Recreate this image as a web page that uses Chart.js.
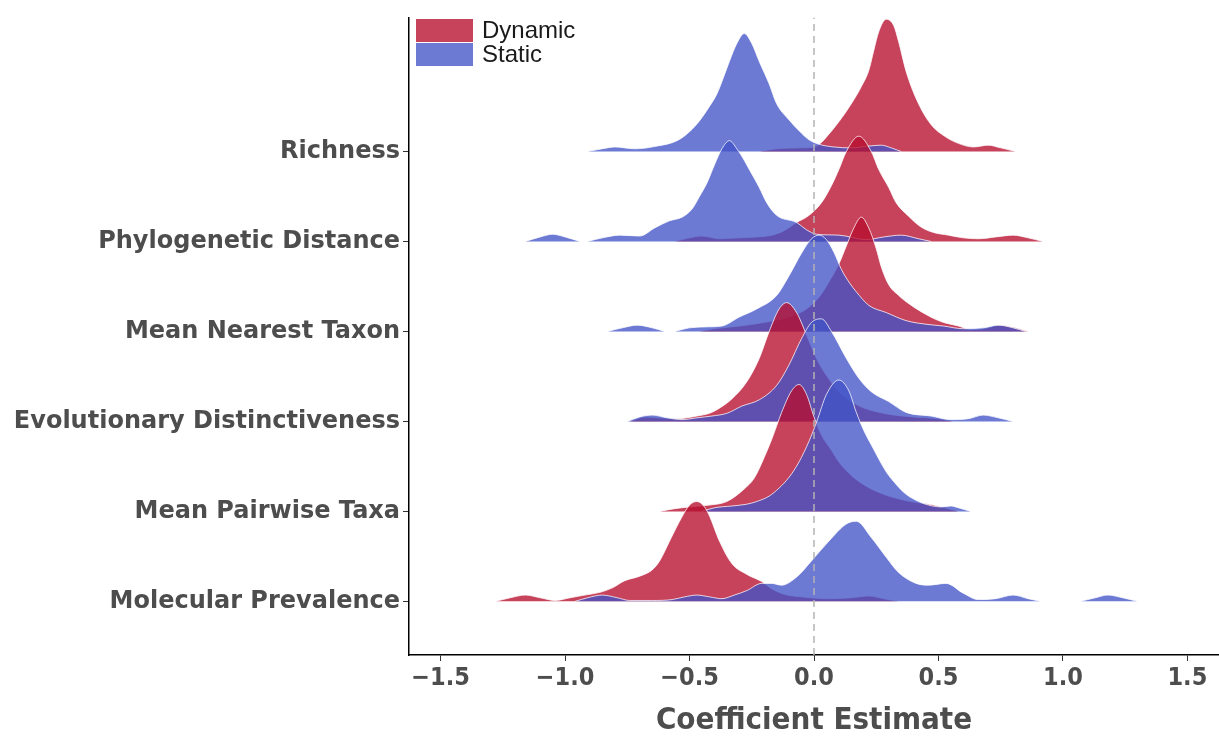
<!DOCTYPE html>
<html>
<head>
<meta charset="utf-8">
<script src="https://cdn.jsdelivr.net/npm/chart.js@4.4.1/dist/chart.umd.min.js"></script>
<style>
  html, body { margin: 0; padding: 0; background: #fff; }
  #wrap { width: 1219px; height: 736px; position: relative; }
</style>
</head>
<body>
<div id="wrap"><canvas id="ridges"></canvas></div>
<script>
// categories, top to bottom
var categories = ['Richness', 'Phylogenetic Distance', 'Mean Nearest Taxon',
  'Evolutionary Distinctiveness', 'Mean Pairwise Taxa', 'Molecular Prevalence'];
var groups = ['Dynamic', 'Static'];
var xTicks = [-1.5, -1.0, -0.5, 0.0, 0.5, 1.0, 1.5];

// density curves: [estimate, height in row units], null = gap
var richnessDynamic = [[-0.22,0],[-0.15,0.03],[-0.05,0.04],[0.0,0.05],[0.03,0.1],[0.05,0.16],[0.1,0.33],[0.15,0.53],[0.19,0.72],[0.22,0.9],[0.24,1.12],[0.26,1.33],[0.29,1.47],[0.32,1.4],[0.34,1.22],[0.37,0.89],[0.42,0.53],[0.47,0.3],[0.53,0.16],[0.58,0.09],[0.64,0.05],[0.7,0.07],[0.75,0.04],[0.81,0]];
var richnessStatic = [[-0.91,0],[-0.85,0.03],[-0.8,0.05],[-0.72,0.03],[-0.63,0.06],[-0.55,0.12],[-0.5,0.22],[-0.46,0.34],[-0.42,0.5],[-0.39,0.64],[-0.36,0.85],[-0.34,1.0],[-0.31,1.2],[-0.28,1.31],[-0.25,1.2],[-0.22,1.0],[-0.18,0.75],[-0.15,0.53],[-0.1,0.35],[-0.06,0.23],[-0.02,0.13],[0.02,0.08],[0.08,0.05],[0.15,0.04],[0.22,0.06],[0.27,0.07],[0.31,0.04],[0.35,0]];
var phyloDynamic = [[-0.56,0],[-0.5,0.04],[-0.45,0.06],[-0.38,0.03],[-0.3,0.04],[-0.23,0.05],[-0.17,0.07],[-0.12,0.12],[-0.07,0.21],[-0.02,0.29],[0.03,0.43],[0.07,0.62],[0.1,0.8],[0.13,1.0],[0.18,1.17],[0.23,1.0],[0.26,0.8],[0.3,0.6],[0.33,0.43],[0.38,0.28],[0.43,0.16],[0.48,0.1],[0.54,0.07],[0.6,0.04],[0.66,0.03],[0.73,0.05],[0.8,0.07],[0.86,0.04],[0.92,0]];
var phyloStatic = [[-1.16,0],[-1.1,0.05],[-1.05,0.08],[-1.0,0.05],[-0.94,0],[-0.925,null],[-0.91,0],[-0.85,0.04],[-0.78,0.07],[-0.7,0.06],[-0.64,0.15],[-0.58,0.23],[-0.53,0.27],[-0.49,0.36],[-0.46,0.5],[-0.43,0.65],[-0.4,0.85],[-0.37,1.03],[-0.34,1.12],[-0.31,1.03],[-0.28,0.9],[-0.26,0.8],[-0.22,0.6],[-0.19,0.43],[-0.15,0.29],[-0.07,0.21],[-0.03,0.13],[0.01,0.08],[0.1,0.07],[0.21,0.02],[0.28,0.05],[0.35,0.07],[0.42,0.03],[0.47,0]];
var mntDynamic = [[-0.46,0],[-0.4,0.03],[-0.3,0.06],[-0.2,0.1],[-0.1,0.16],[-0.03,0.25],[0.02,0.38],[0.06,0.55],[0.1,0.75],[0.13,0.95],[0.16,1.15],[0.19,1.27],[0.22,1.15],[0.25,0.92],[0.27,0.72],[0.3,0.52],[0.34,0.4],[0.37,0.33],[0.43,0.22],[0.51,0.11],[0.58,0.06],[0.63,0.02],[0.68,0.03],[0.75,0.07],[0.81,0.04],[0.86,0]];
var mntStatic = [[-0.83,0],[-0.77,0.04],[-0.71,0.07],[-0.65,0.04],[-0.6,0],[-0.58,null],[-0.56,0],[-0.5,0.04],[-0.44,0.05],[-0.37,0.06],[-0.3,0.16],[-0.23,0.25],[-0.15,0.4],[-0.1,0.62],[-0.05,0.87],[-0.01,1.03],[0.02,1.07],[0.05,1.02],[0.08,0.88],[0.11,0.69],[0.14,0.55],[0.17,0.44],[0.22,0.29],[0.29,0.21],[0.37,0.12],[0.45,0.08],[0.52,0.06],[0.6,0.03],[0.68,0.04],[0.74,0.07],[0.8,0.04],[0.85,0]];
var edDynamic = [[-0.74,0],[-0.68,0.05],[-0.62,0.04],[-0.55,0.03],[-0.47,0.06],[-0.42,0.09],[-0.39,0.13],[-0.33,0.25],[-0.27,0.44],[-0.22,0.7],[-0.18,1.0],[-0.14,1.25],[-0.11,1.32],[-0.07,1.21],[-0.03,0.96],[0.01,0.7],[0.06,0.47],[0.1,0.33],[0.15,0.22],[0.2,0.15],[0.3,0.08],[0.4,0.05],[0.5,0.03],[0.56,0]];
var edStatic = [[-0.75,0],[-0.7,0.05],[-0.65,0.07],[-0.59,0.04],[-0.53,0.02],[-0.47,0.04],[-0.41,0.06],[-0.35,0.09],[-0.29,0.17],[-0.22,0.24],[-0.15,0.4],[-0.1,0.63],[-0.05,0.92],[-0.01,1.1],[0.03,1.14],[0.07,1.0],[0.13,0.7],[0.18,0.48],[0.23,0.33],[0.3,0.22],[0.37,0.1],[0.47,0.06],[0.55,0.02],[0.62,0.03],[0.68,0.07],[0.74,0.04],[0.8,0]];
var mptDynamic = [[-0.62,0],[-0.56,0.03],[-0.5,0.05],[-0.42,0.07],[-0.35,0.11],[-0.28,0.25],[-0.24,0.37],[-0.2,0.6],[-0.17,0.8],[-0.13,1.1],[-0.09,1.34],[-0.06,1.41],[-0.03,1.3],[0.0,1.05],[0.03,0.85],[0.07,0.68],[0.1,0.55],[0.15,0.4],[0.21,0.28],[0.28,0.19],[0.37,0.12],[0.48,0.07],[0.54,0.03],[0.58,0]];
var mptStatic = [[-0.45,0],[-0.4,0.04],[-0.33,0.06],[-0.27,0.08],[-0.23,0.11],[-0.18,0.17],[-0.14,0.26],[-0.1,0.38],[-0.06,0.55],[-0.02,0.78],[0.01,0.99],[0.05,1.3],[0.1,1.46],[0.14,1.34],[0.17,1.1],[0.2,0.9],[0.23,0.74],[0.29,0.44],[0.33,0.3],[0.37,0.19],[0.42,0.11],[0.46,0.07],[0.51,0.05],[0.55,0.06],[0.58,0.04],[0.63,0]];
var molDynamic = [[-1.28,0],[-1.22,0.04],[-1.16,0.07],[-1.1,0.04],[-1.04,0.01],[-0.98,0.04],[-0.92,0.07],[-0.86,0.1],[-0.81,0.15],[-0.76,0.23],[-0.7,0.28],[-0.65,0.35],[-0.62,0.45],[-0.58,0.67],[-0.54,0.89],[-0.5,1.07],[-0.47,1.11],[-0.44,1.05],[-0.42,0.95],[-0.38,0.67],[-0.33,0.42],[-0.27,0.3],[-0.21,0.22],[-0.17,0.14],[-0.12,0.08],[-0.05,0.05],[0.05,0.03],[0.15,0.04],[0.22,0.06],[0.28,0.03],[0.34,0]];
var molStatic = [[-0.96,0],[-0.91,0.04],[-0.85,0.07],[-0.79,0.04],[-0.74,0.01],[-0.65,0.01],[-0.57,0.02],[-0.52,0.05],[-0.47,0.07],[-0.42,0.05],[-0.37,0.03],[-0.32,0.07],[-0.27,0.12],[-0.21,0.2],[-0.17,0.2],[-0.13,0.18],[-0.07,0.27],[-0.01,0.45],[0.06,0.67],[0.13,0.86],[0.17,0.89],[0.23,0.71],[0.29,0.49],[0.34,0.32],[0.41,0.2],[0.46,0.18],[0.53,0.2],[0.6,0.09],[0.66,0.02],[0.73,0.03],[0.8,0.07],[0.86,0.03],[0.91,0],[0.99,null],[1.07,0],[1.13,0.04],[1.18,0.07],[1.24,0.04],[1.3,0]];

var dynamicCurves = [richnessDynamic, phyloDynamic, mntDynamic, edDynamic, mptDynamic, molDynamic];
var staticCurves = [richnessStatic, phyloStatic, mntStatic, edStatic, mptStatic, molStatic];

var fillColors = ['rgba(183,14,46,0.78)', 'rgba(66,84,200,0.78)'];
var labelGrey = '#4d4d4d';
var narrow = "'Liberation Sans Narrow', 'DejaVu Sans Condensed', 'Arial Narrow', sans-serif";

function baseOf(i) { return categories.length - i; }

function toPoints(curve, base) {
  return curve.map(function (p) {
    return { x: p[0], y: p[1] === null ? null : base + p[1] };
  });
}

var datasets = [];
var drawIdx = 0;
categories.forEach(function (cat, i) {
  var base = baseOf(i);
  [dynamicCurves[i], staticCurves[i]].forEach(function (curve, g) {
    datasets.push({
      label: cat + ' - ' + groups[g],
      data: toPoints(curve, base),
      backgroundColor: fillColors[g],
      borderColor: 'rgba(255,255,255,0.75)',
      borderWidth: 1,
      pointRadius: 0,
      cubicInterpolationMode: 'monotone',
      spanGaps: false,
      fill: { value: base },
      order: 100 - drawIdx
    });
    drawIdx++;
  });
});

// dashed reference line at zero, on top
datasets.push({
  label: 'zero',
  data: [{ x: 0, y: 0.404 }, { x: 0, y: 7.49 }],
  borderColor: '#b3b3b3',
  borderWidth: 1.5,
  borderDash: [7, 5],
  pointRadius: 0,
  fill: false,
  order: 0
});

var legendBoxes = {
  id: 'legendBoxes',
  afterDraw: function (chart) {
    var c = chart.ctx;
    var left = chart.chartArea.left + 7;
    c.save();
    groups.forEach(function (g, k) {
      var y = 19 + k * 24;
      c.fillStyle = fillColors[k];
      c.fillRect(left, y, 57, 23);
      c.fillStyle = '#1a1a1a';
      c.font = '24px "Liberation Sans", Arial, sans-serif';
      c.textBaseline = 'middle';
      c.textAlign = 'left';
      c.fillText(g, left + 66, y + 12);
    });
    c.restore();
  }
};

var ctx = document.getElementById('ridges');
var ridges = new Chart(ctx, {
  type: 'line',
  data: { datasets: datasets },
  options: {
    responsive: true,
    maintainAspectRatio: false,
    animation: false,
    layout: { padding: { top: 13, right: 0, left: 0, bottom: 0 } },
    plugins: {
      legend: { display: false },
      tooltip: { enabled: false }
    },
    scales: {
      x: {
        type: 'linear',
        min: -1.627,
        max: 1.627,
        afterFit: function (s) { s.height = 81; },
        afterBuildTicks: function (s) {
          s.ticks = xTicks.map(function (v) { return { value: v }; });
        },
        ticks: {
          color: labelGrey,
          padding: 2,
          maxRotation: 0,
          font: { family: narrow, size: 25, weight: 'bold' },
          callback: function (v) {
            var t = Math.abs(v).toFixed(1);
            return v < 0 ? '\u2212' + t : t;
          }
        },
        grid: { drawOnChartArea: false, drawTicks: true, tickLength: 6, color: '#333', lineWidth: 1 },
        border: { display: true, color: '#000', width: 1.5 },
        title: {
          display: true,
          text: 'Coefficient Estimate',
          color: labelGrey,
          padding: { top: 0, bottom: 0 },
          font: { family: narrow, size: 31, weight: 'bold', lineHeight: 1 }
        }
      },
      y: {
        type: 'linear',
        min: 0.404,
        max: 7.49,
        afterFit: function (s) { s.width = 409; },
        afterBuildTicks: function (s) {
          s.ticks = categories.map(function (c, i) { return { value: baseOf(i) }; });
        },
        ticks: {
          color: labelGrey,
          padding: 3,
          font: { family: "'DejaVu Sans', Verdana, sans-serif", size: 24, weight: 'bold' },
          callback: function (v) { return categories[categories.length - v]; }
        },
        grid: { drawOnChartArea: false, drawTicks: true, tickLength: 6, color: '#333', lineWidth: 1 },
        border: { display: true, color: '#000', width: 1.5 }
      }
    }
  },
  plugins: [legendBoxes]
});
</script>
</body>
</html>
